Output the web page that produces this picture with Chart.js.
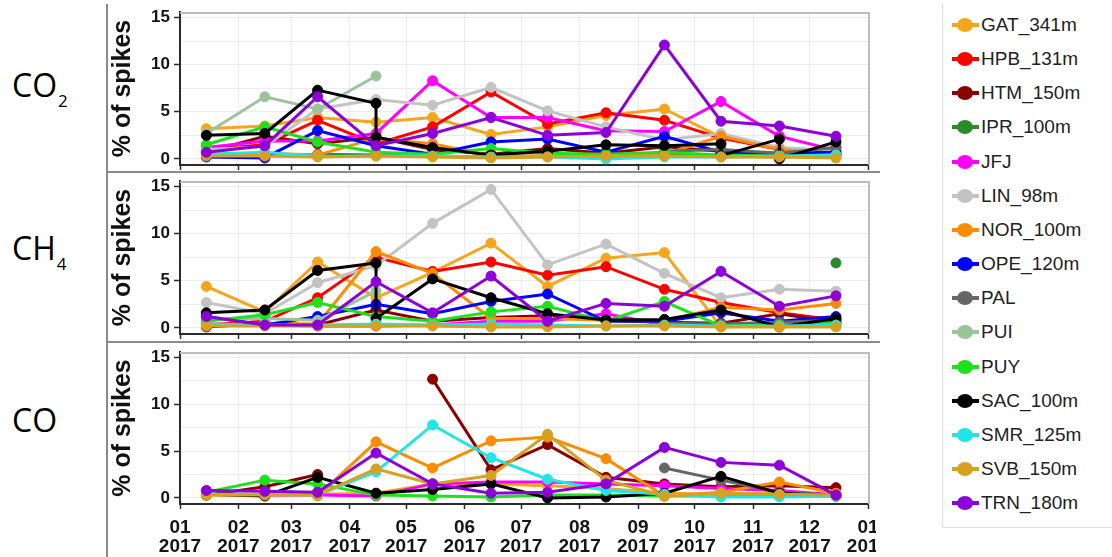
<!DOCTYPE html>
<html>
<head>
<meta charset="utf-8">
<script src="https://cdn.jsdelivr.net/npm/chart.js@4/dist/chart.umd.min.js"></script>
<style>
html,body{margin:0;padding:0;background:#fff;}
#wrap{position:relative;width:1112px;height:557px;overflow:hidden;background:#fff;}
#wrap canvas{position:absolute;}
.gas{position:absolute;left:12px;font-family:'Open Sans',sans-serif;font-size:32px;line-height:32px;color:#000;white-space:nowrap;}
.gas span{font-size:17px;position:relative;top:10px;margin-left:1px;}
.frame{position:absolute;background:#8a8a8a;}
.lg{position:absolute;font-family:'Liberation Sans',Arial,sans-serif;font-size:19px;line-height:22px;color:#222;white-space:nowrap;}
.lgline{position:absolute;height:4px;}
.lgdot{position:absolute;width:16px;height:14px;border-radius:50%;}
</style>
</head>
<body>
<div id="wrap">
  <div class="gas" style="top:69px">CO<span>2</span></div>
  <div class="gas" style="top:232px">CH<span>4</span></div>
  <div class="gas" style="top:404px">CO</div>

  <canvas id="c0" width="768" height="172" style="left:108px;top:0px"></canvas>
  <canvas id="c1" width="768" height="168" style="left:108px;top:174px"></canvas>
  <canvas id="c2" width="768" height="213" style="left:108px;top:344px"></canvas>

  <div class="frame" style="left:106px;top:4px;width:2px;height:553px"></div>
  <div class="frame" style="left:106px;top:171px;width:774px;height:2px"></div>
  <div class="frame" style="left:106px;top:341px;width:774px;height:2px"></div>

  <div id="legend" style="position:absolute;left:942px;top:3px;width:170px;height:524px;border-left:1px solid #ddd;border-bottom:1px solid #ddd;"></div>
</div>
<script>
// ---------- categories / ticks ----------
const months = ['2017-01-15','2017-02-15','2017-03-15','2017-04-15','2017-05-15','2017-06-15',
                '2017-07-15','2017-08-15','2017-09-15','2017-10-15','2017-11-15','2017-12-15'];
const monthStarts = ['2017-01-01','2017-02-01','2017-03-01','2017-04-01','2017-05-01','2017-06-01',
                     '2017-07-01','2017-08-01','2017-09-01','2017-10-01','2017-11-01','2017-12-01','2018-01-01'];
const xTickLabels = [['01','2017'],['02','2017'],['03','2017'],['04','2017'],['05','2017'],['06','2017'],
                     ['07','2017'],['08','2017'],['09','2017'],['10','2017'],['11','2017'],['12','2017'],['01','2018']];
const yTicks = [0, 2.5, 5, 7.5, 10, 12.5, 15];
const yLabelTicks = [0, 5, 10, 15];
const gasNames = ['CO2', 'CH4', 'CO'];
const yTitle = '% of spikes';

const stations = ['GAT_341m','HPB_131m','HTM_150m','IPR_100m','JFJ','LIN_98m','NOR_100m','OPE_120m',
                  'PAL','PUI','PUY','SAC_100m','SMR_125m','SVB_150m','TRN_180m'];
const stationColors = ['#F5A61C','#FF0000','#8B0000','#2A8B2A','#FF00FF','#C3C3C3','#FF8C00','#0000FF',
                       '#666666','#9CC49C','#1EE11E','#000000','#22E6E6','#D6A020','#8E00D8'];

// ---------- values (% of spikes); a pair = two values reported in the same month ----------
const CO2_GAT = [3.2, 3.5, 4.4, 3.9, 4.4, 2.6, 3.4, 4.6, 5.3, 2.3, 1.2, 0.2];
const CO2_HPB = [1.0, 1.5, 4.1, 1.6, 3.4, 7.1, 3.7, 4.9, 4.1, 2.2, 1.0, 0.5];
const CO2_HTM = [0.7, 2.4, 1.6, 2.3, 1.0, 0.5, 1.1, 0.6, 1.3, 0.8, 0.5, 1.2];
const CO2_IPR = [0.3, 0.3, 0.5, 0.4, 0.3, 0.2, 0.3, 0.2, 0.6, 0.3, 0.2, 0.4];
const CO2_JFJ = [1.2, 1.9, 1.9, 2.7, 8.3, 4.4, 4.4, 3.0, 2.9, 6.1, 2.4, 0.9];
const CO2_LIN = [1.0, 1.3, 5.3, 6.3, 5.7, 7.6, 5.1, 3.4, 2.0, 2.7, 1.2, 0.9];
const CO2_NOR = [0.5, 0.6, 0.4, 2.2, 1.6, 0.3, 0.3, 0.4, 0.5, 2.4, 1.0, 0.5];
const CO2_OPE = [0.2, 0.1, 3.0, 1.4, 0.5, 1.8, 2.1, 0.7, 2.4, 0.7, 0.6, 0.7];
const CO2_PAL = [null, null, null, null, null, null, null, null, 0.8, 1.0, 0.6, 1.2];
const CO2_PUI = [2.7, 6.6, 5.3, 8.8, null, null, null, null, null, null, null, null];
const CO2_PUY = [1.5, 3.4, 1.8, 0.7, 0.5, 1.1, 0.6, 0.5, 0.7, 0.4, 0.3, 0.4];
const CO2_SAC = [2.5, 2.7, 7.3, [5.9, 2.3], 1.2, 0.4, 0.8, 1.5, 1.4, [1.6, 0.35], [2.1, 0.0], 1.8];
const CO2_SMR = [0.5, 0.7, 0.25, 0.3, 0.3, 0.2, 0.2, 0.0, 0.2, 0.2, 0.3, 0.4];
const CO2_SVB = [0.3, 0.3, 0.2, 0.3, 0.2, 0.1, 0.2, 0.3, 0.3, 0.2, 0.2, 0.1];
const CO2_TRN = [0.7, 1.4, 6.6, 1.4, 2.7, 4.4, 2.5, 2.8, 12.1, 4.0, 3.5, 2.4];

const CH4_GAT = [4.4, 1.7, 7.0, 3.2, 5.9, 9.0, 4.4, 7.4, 8.0, 0.1, 0.3, 0.2];
const CH4_HPB = [0.3, 0.7, 3.2, 7.5, 6.0, 7.0, 5.6, 6.5, 4.1, 2.7, 1.6, 0.85];
const CH4_HTM = [0.1, 0.5, 0.3, 1.9, 0.7, 1.1, 1.3, 0.8, 0.6, 0.5, 1.5, 0.6];
const CH4_IPR = [null, null, null, null, null, null, null, null, null, null, null, 6.9];
const CH4_JFJ = [0.4, 0.3, 0.2, 0.2, 0.3, 0.7, 0.7, 1.5, 0.3, 0.2, 0.3, 0.5];
const CH4_LIN = [2.7, 1.5, 4.8, 6.6, 11.1, 14.7, 6.7, 8.9, 5.8, 3.2, 4.1, 3.9];
const CH4_NOR = [0.3, 0.5, 0.4, 8.1, 5.8, 1.0, 1.0, 0.8, 0.7, 2.2, 1.9, 2.6];
const CH4_OPE = [1.2, 0.3, 1.2, 2.5, 1.5, 2.8, 3.6, 0.7, 0.7, 1.6, 0.7, 1.2];
const CH4_PAL = [null, null, null, null, null, null, null, null, 0.5, 0.4, 0.6, 0.8];
const CH4_PUI = [1.0, 1.0, 0.8, 3.9, null, null, null, null, null, null, null, null];
const CH4_PUY = [0.7, 1.4, 2.7, 1.2, 0.7, 1.7, 2.3, 0.7, 2.8, 0.2, 0.3, 0.5];
const CH4_SAC = [1.6, 1.9, 6.1, [6.9, 1.0], 5.2, 3.2, 1.5, 0.85, 0.9, 1.9, 0.1, 1.0];
const CH4_SMR = [0.3, 0.3, 0.3, 0.4, 0.3, 0.4, 0.3, 0.2, 0.3, 0.2, 0.2, 0.3];
const CH4_SVB = [0.2, 0.2, 0.2, 0.2, 0.2, 0.1, 0.1, 0.2, 0.2, 0.1, 0.1, 0.1];
const CH4_TRN = [1.2, 0.3, 0.3, 4.9, 1.6, 5.5, 0.7, 2.6, 2.3, 6.0, 2.3, 3.4];

const CO_GAT = [0.3, 0.3, 0.4, 0.5, 1.5, 1.5, 1.3, 1.0, 0.5, 0.4, 0.5, 0.3];
const CO_HPB = [null, null, null, null, null, null, null, null, null, null, null, null];
const CO_HTM = [0.3, 1.2, 2.5, null, 12.7, 3.0, 5.7, 2.2, 1.5, 1.2, 1.3, 1.1];
const CO_IPR = [null, null, null, null, null, null, null, null, null, null, null, null];
const CO_JFJ = [0.4, 0.3, 0.3, 0.2, 1.5, 1.7, 1.7, 1.5, 1.3, 1.0, 0.8, 0.3];
const CO_LIN = [null, null, null, null, null, null, null, null, null, null, null, null];
const CO_NOR = [null, null, 0.2, 6.0, 3.2, 6.1, 6.5, 4.2, 0.2, 0.6, 1.7, 0.5];
const CO_OPE = [null, null, null, null, null, null, null, null, null, null, null, null];
const CO_PAL = [null, null, null, null, null, null, null, null, 3.2, 1.9, 0.6, 0.3];
const CO_PUI = [null, null, null, null, null, null, null, null, null, null, null, null];
const CO_PUY = [0.6, 1.9, 1.5, 0.3, 0.2, 0.1, 0.3, 0.3, 0.2, 0.2, 0.2, 0.2];
const CO_SAC = [0.4, 0.2, 2.2, 0.5, 0.9, 1.5, 0.0, 0.1, 0.5, 2.3, 0.5, 0.2];
const CO_SMR = [0.4, 0.4, 0.3, 2.8, 7.8, 4.3, 2.0, 0.8, 0.4, 0.1, 0.1, 0.2];
const CO_SVB = [0.3, 0.3, 0.3, 3.1, 1.5, 2.4, 6.8, 1.9, 0.2, 0.5, 0.4, 0.3];
const CO_TRN = [0.8, 0.7, 0.6, 4.8, 1.5, 0.5, 0.6, 1.5, 5.4, 3.8, 3.5, 0.3];

// ---------- build ----------
const SERIES = [
  [CO2_GAT,CO2_HPB,CO2_HTM,CO2_IPR,CO2_JFJ,CO2_LIN,CO2_NOR,CO2_OPE,CO2_PAL,CO2_PUI,CO2_PUY,CO2_SAC,CO2_SMR,CO2_SVB,CO2_TRN],
  [CH4_GAT,CH4_HPB,CH4_HTM,CH4_IPR,CH4_JFJ,CH4_LIN,CH4_NOR,CH4_OPE,CH4_PAL,CH4_PUI,CH4_PUY,CH4_SAC,CH4_SMR,CH4_SVB,CH4_TRN],
  [CO_GAT,CO_HPB,CO_HTM,CO_IPR,CO_JFJ,CO_LIN,CO_NOR,CO_OPE,CO_PAL,CO_PUI,CO_PUY,CO_SAC,CO_SMR,CO_SVB,CO_TRN]
];

const day0 = Date.UTC(2017, 0, 1);
function dayOf(s){ const p = s.split('-').map(Number); return (Date.UTC(p[0], p[1]-1, p[2]) - day0) / 86400000; }
const monthX = months.map(dayOf);
const tickX = monthStarts.map(dayOf);

function toPoints(arr){
  const out = [];
  arr.forEach((v, i) => {
    if (Array.isArray(v)) v.forEach(w => out.push({x: monthX[i], y: w}));
    else out.push({x: monthX[i], y: v});
  });
  return out;
}

const TICK_FONT = {family: "'Liberation Sans', Arial, sans-serif", size: 17, weight: 'bold'};
const XTICK_FONT = {family: "'Liberation Sans', Arial, sans-serif", size: 19, weight: 'bold', lineHeight: 1.0};
const TITLE_FONT = {family: "'Liberation Sans', Arial, sans-serif", size: 25, weight: 'bold', lineHeight: 1.2};

const boxPlugin = {
  id: 'plotbox',
  beforeDatasetsDraw(chart){
    const a = chart.chartArea, ctx = chart.ctx;
    ctx.save();
    ctx.strokeStyle = '#bdbdbd';
    ctx.lineWidth = 2;
    ctx.beginPath();
    ctx.moveTo(a.left, a.top + 1);
    ctx.lineTo(a.right + 1, a.top + 1);
    ctx.lineTo(a.right + 1, a.bottom);
    ctx.stroke();
    ctx.restore();
  }
};

const panelCfg = [
  {id: 'c0', padTop: 12, xH: 7, labels: false},
  {id: 'c1', padTop: 7, xH: 8, labels: false},
  {id: 'c2', padTop: 8, xH: 53, labels: true}
];

panelCfg.forEach((pc, g) => {
  const datasets = SERIES[g].map((arr, i) => ({
    label: stations[i],
    data: toPoints(arr),
    borderColor: stationColors[i],
    backgroundColor: stationColors[i],
    pointBackgroundColor: stationColors[i],
    pointBorderColor: stationColors[i],
    borderWidth: 3,
    pointRadius: 5,
    pointBorderWidth: 1,
    tension: 0,
    spanGaps: false,
    order: stations.length - i
  }));
  new Chart(document.getElementById(pc.id), {
    type: 'line',
    data: {datasets},
    plugins: [boxPlugin],
    options: {
      responsive: false,
      animation: false,
      devicePixelRatio: 1,
      layout: {padding: {left: 0, right: 8, top: pc.padTop, bottom: 0}},
      plugins: {legend: {display: false}, tooltip: {enabled: false}},
      scales: {
        x: {
          type: 'linear',
          min: tickX[0],
          max: tickX[tickX.length - 1],
          afterBuildTicks(s){ s.ticks = tickX.map(v => ({value: v})); },
          afterFit(s){ s.height = pc.xH; s.paddingLeft = 0; s.paddingRight = 0; },
          border: {display: true, color: '#2b2b2b', width: 2},
          grid: {color: '#ececec', lineWidth: 1, drawTicks: true, tickLength: 5, tickColor: '#2b2b2b', tickWidth: 1.5},
          ticks: {
            display: pc.labels,
            autoSkip: false,
            maxRotation: 0,
            minRotation: 0,
            padding: 9,
            color: '#151515',
            font: XTICK_FONT,
            callback: (v, i) => xTickLabels[i]
          }
        },
        y: {
          min: -0.65,
          max: 15.6,
          afterBuildTicks(s){ s.ticks = yTicks.map(v => ({value: v})); },
          afterFit(s){ s.width = 72; s.paddingTop = 0; s.paddingBottom = 0; },
          border: {display: true, color: '#2b2b2b', width: 2},
          grid: {
            color: '#ececec',
            lineWidth: 1,
            drawTicks: true,
            tickLength: 6,
            tickWidth: 1.5,
            tickColor: ctx => (ctx.tick && yLabelTicks.includes(ctx.tick.value)) ? '#2b2b2b' : 'rgba(0,0,0,0)'
          },
          ticks: {
            padding: 4,
            color: '#151515',
            font: TICK_FONT,
            callback: v => yLabelTicks.includes(v) ? String(v) : ''
          },
          title: {display: true, text: yTitle, color: '#111', font: TITLE_FONT, padding: 0}
        }
      }
    }
  });
});

// ---------- legend ----------
const lg = document.getElementById('legend');
stations.forEach((name, i) => {
  const cy = 22 + 34.16 * i;
  const line = document.createElement('div');
  line.className = 'lgline';
  line.style.cssText = `left:9px;top:${cy - 2}px;width:27px;background:${stationColors[i]}`;
  const dot = document.createElement('div');
  dot.className = 'lgdot';
  dot.style.cssText = `left:14px;top:${cy - 7}px;background:${stationColors[i]}`;
  const t = document.createElement('div');
  t.className = 'lg';
  t.style.cssText = `left:38px;top:${cy - 11}px`;
  t.textContent = name;
  lg.appendChild(line); lg.appendChild(dot); lg.appendChild(t);
});
</script>
</body>
</html>
